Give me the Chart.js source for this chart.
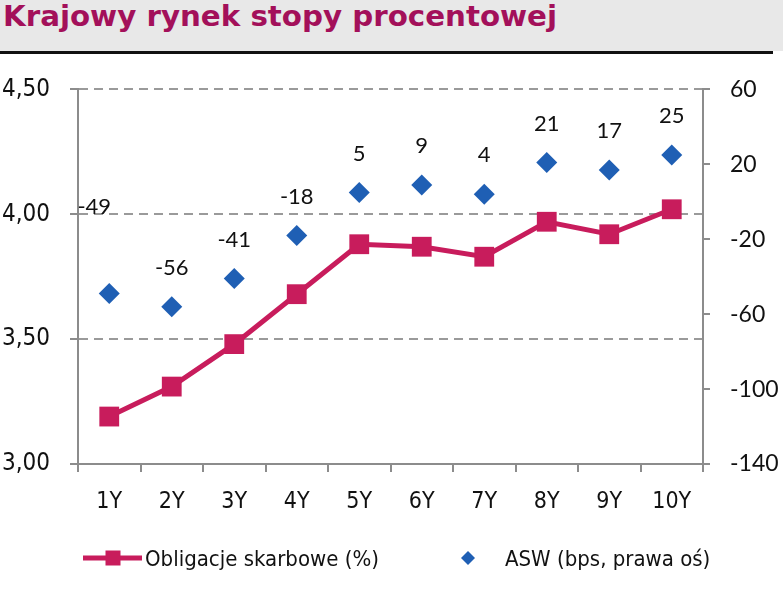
<!DOCTYPE html>
<html><head><meta charset="utf-8">
<script src="https://cdn.jsdelivr.net/npm/chart.js@4/dist/chart.umd.min.js"></script>
<style>
html,body{margin:0;padding:0;background:#fff;width:783px;height:599px;overflow:hidden;}
#title{position:absolute;left:0;top:0;width:783px;height:51px;background:#e8e8e8;}
#tt{position:absolute;left:3px;top:0px;font-family:'DejaVu Sans Condensed','DejaVu Sans',sans-serif;font-weight:bold;font-size:28px;line-height:34px;color:#a3105a;white-space:nowrap;transform-origin:0 0;}
#rule{position:absolute;left:0;top:51px;width:773px;height:3px;background:#111;}
#wrap{position:absolute;left:0;top:55px;width:783px;height:544px;}
</style></head><body>
<div id="title"><span id="tt">Krajowy rynek stopy procentowej</span></div>
<div id="rule"></div>
<div id="wrap"><canvas id="c" width="783" height="544"></canvas></div>
<script>
// ---- data ----
const categories = ['1Y','2Y','3Y','4Y','5Y','6Y','7Y','8Y','9Y','10Y'];
const bondYields = [3.19, 3.31, 3.48, 3.68, 3.88, 3.87, 3.83, 3.97, 3.92, 4.02];
const aswSpreads = [-49, -56, -41, -18, 5, 9, 4, 21, 17, 25];
const seriesNames = ['Obligacje skarbowe (%)', 'ASW (bps, prawa oś)'];
const leftAxisRange = [3.0, 4.5, 0.5];
const rightAxisRange = [-140, 60, 40];

// fit title width
const tt = document.getElementById('tt');
const w = tt.getBoundingClientRect().width;
tt.style.transform = 'scaleX(' + (554 / w) + ')';

const NARROW = "'DejaVu Sans Condensed','DejaVu Sans',sans-serif";
const CAL = "Lato,'Open Sans',sans-serif";
const LINE_COLOR = '#c81c5c';
const DIAMOND_COLOR = '#1f5fb4';
const AXIS_COLOR = '#8c8c8c';

const labelPlugin = {
  id: 'aswLabels',
  afterDatasetsDraw(chart) {
    const meta = chart.getDatasetMeta(1);
    const ctx = chart.ctx;
    ctx.save();
    ctx.font = '22px ' + CAL;
    ctx.fillStyle = '#111';
    ctx.textAlign = 'center';
    ctx.textBaseline = 'middle';
    meta.data.forEach((pt, i) => {
      const dx = i === 0 ? -15 : 0;
      const dy = i === 0 ? -87 : -39;
      ctx.fillText(String(chart.data.datasets[1].data[i]), pt.x + dx, pt.y + dy);
    });
    ctx.restore();
  }
};

const legendPlugin = {
  id: 'customLegend',
  afterDraw(chart) {
    const ctx = chart.ctx;
    const y = 503;
    ctx.save();
    // item 1
    ctx.strokeStyle = LINE_COLOR;
    ctx.lineWidth = 5;
    ctx.beginPath(); ctx.moveTo(83, y); ctx.lineTo(142, y); ctx.stroke();
    ctx.fillStyle = LINE_COLOR;
    ctx.fillRect(113 - 7.5, y - 7.5, 15, 15);
    ctx.fillStyle = '#111';
    ctx.font = '22px ' + NARROW;
    ctx.textAlign = 'left';
    ctx.textBaseline = 'middle';
    ctx.fillText(chart.data.datasets[0].label, 145, y + 2);
    // item 2
    ctx.fillStyle = DIAMOND_COLOR;
    ctx.beginPath();
    ctx.moveTo(468, y - 7); ctx.lineTo(475, y); ctx.lineTo(468, y + 7); ctx.lineTo(461, y); ctx.closePath();
    ctx.fill();
    ctx.fillStyle = '#111';
    ctx.fillText(chart.data.datasets[1].label, 505, y + 2);
    ctx.restore();
  }
};

new Chart(document.getElementById('c'), {
  type: 'line',
  data: {
    labels: categories,
    datasets: [
      {
        label: seriesNames[0],
        data: bondYields,
        yAxisID: 'y',
        borderColor: LINE_COLOR,
        backgroundColor: LINE_COLOR,
        borderWidth: 5,
        pointStyle: 'rect',
        pointRadius: 14,
        pointHoverRadius: 14,
        pointBorderWidth: 0,
        pointBackgroundColor: LINE_COLOR,
        tension: 0,
        clip: false,
        order: 2
      },
      {
        label: seriesNames[1],
        data: aswSpreads,
        yAxisID: 'y2',
        showLine: false,
        borderColor: DIAMOND_COLOR,
        backgroundColor: DIAMOND_COLOR,
        pointStyle: 'rectRot',
        pointRadius: 10.5,
        pointHoverRadius: 10.5,
        pointBorderWidth: 0,
        pointBackgroundColor: DIAMOND_COLOR,
        clip: false,
        order: 1
      }
    ]
  },
  options: {
    responsive: false,
    animation: false,
    events: [],
    layout: { padding: { top: 23, left: 0, right: 0, bottom: 0 } },
    plugins: { legend: { display: false }, tooltip: { enabled: false }, title: { display: false } },
    scales: {
      x: {
        type: 'category',
        offset: true,
        grid: { offset: true, drawOnChartArea: false, drawTicks: true, tickLength: 8, color: AXIS_COLOR, lineWidth: 2 },
        border: { display: true, color: AXIS_COLOR, width: 2 },
        ticks: { font: { family: NARROW, size: 23 }, color: '#111', padding: 16, maxRotation: 0, autoSkip: false },
        afterFit(s) { s.height = 135; }
      },
      y: {
        position: 'left',
        min: leftAxisRange[0], max: leftAxisRange[1],
        ticks: {
          stepSize: leftAxisRange[2],
          font: { family: NARROW, size: 24 }, color: '#111', padding: 20,
          callback: v => Number(v).toFixed(2).replace('.', ',')
        },
        grid: {
          drawOnChartArea: true, drawTicks: true, tickLength: 8,
          color: c => (c.tick && c.tick.value === leftAxisRange[0]) ? 'rgba(0,0,0,0)' : '#9a9a9a',
          lineWidth: 2, tickColor: AXIS_COLOR, tickWidth: 2, tickBorderDash: []
        },
        border: { display: true, color: AXIS_COLOR, width: 2, dash: [9, 6] },
        afterFit(s) { s.width = 78; }
      },
      y2: {
        position: 'right',
        min: rightAxisRange[0], max: rightAxisRange[1],
        ticks: { stepSize: rightAxisRange[2], font: { family: CAL, size: 23 }, color: '#111', padding: 20 },
        grid: { drawOnChartArea: false, drawTicks: true, tickLength: 7, color: AXIS_COLOR, lineWidth: 2 },
        border: { display: true, color: AXIS_COLOR, width: 2 },
        afterFit(s) { s.width = 80; }
      }
    }
  },
  plugins: [labelPlugin, legendPlugin]
});
</script>
</body></html>
